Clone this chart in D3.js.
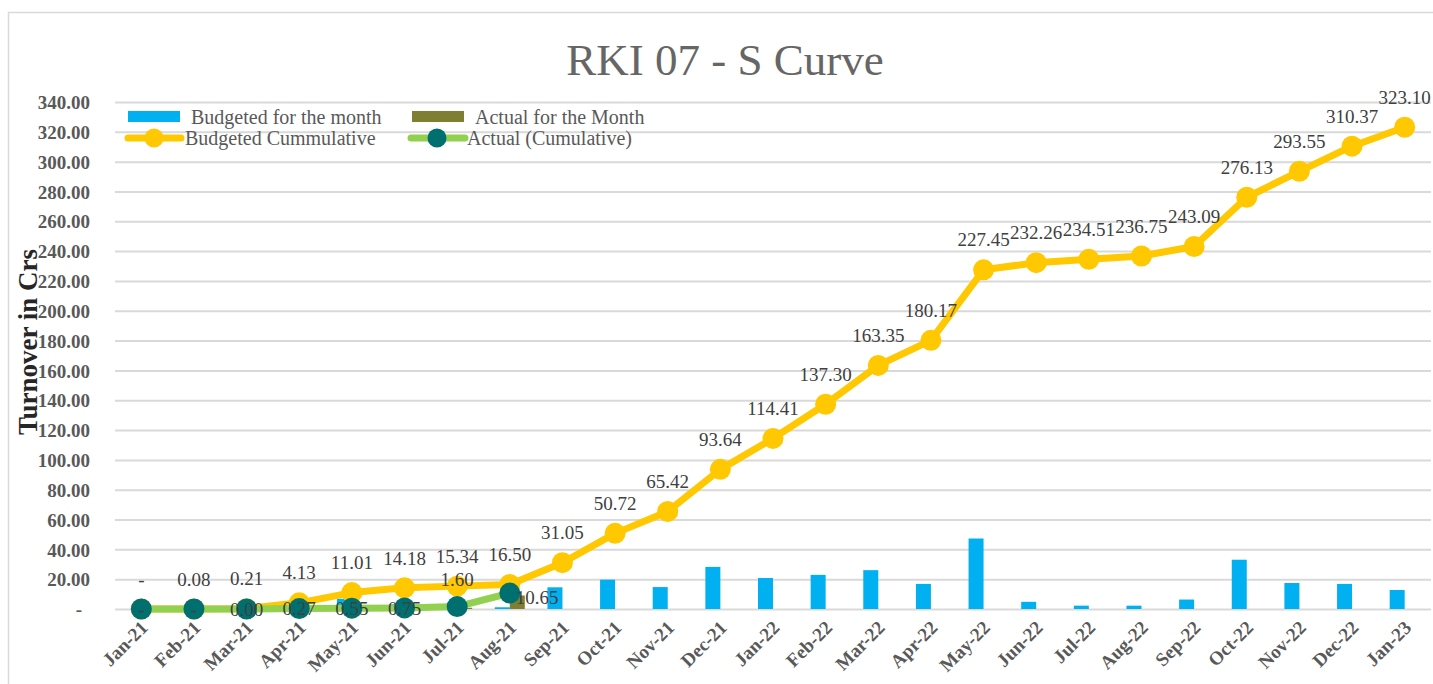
<!DOCTYPE html>
<head>
<meta charset="utf-8">
<title>RKI 07 - S Curve</title>
<script type="text/javascript" src="https://d3js.org/d3.v7.min.js"></script>
<style>
  body { margin: 0; background: #fff; }
  text { font-family: "Liberation Serif", "DejaVu Serif", serif; }
</style>
</head>

<body>
<div id="container"></div>
<script>

const months = ["Jan-21","Feb-21","Mar-21","Apr-21","May-21","Jun-21","Jul-21","Aug-21",
  "Sep-21","Oct-21","Nov-21","Dec-21","Jan-22","Feb-22","Mar-22","Apr-22","May-22",
  "Jun-22","Jul-22","Aug-22","Sep-22","Oct-22","Nov-22","Dec-22","Jan-23"]

const budgetMonth = [0, 0.08, 0.13, 3.92, 6.88, 3.17, 1.16, 1.16, 14.55, 19.67, 14.70, 28.22,
  20.77, 22.89, 26.05, 16.82, 47.28, 4.81, 2.25, 2.24, 6.34, 33.04, 17.42, 16.82, 12.73]

const actualMonth = [0, 0, 0, 0.27, 0.28, 0.20, 0.85, 9.05]

const budgetCum = [0, 0.08, 0.21, 4.13, 11.01, 14.18, 15.34, 16.50, 31.05, 50.72, 65.42, 93.64,
  114.41, 137.30, 163.35, 180.17, 227.45, 232.26, 234.51, 236.75, 243.09, 276.13, 293.55, 310.37, 323.10]

const actualCum = [0, 0, 0, 0.27, 0.55, 0.75, 1.60, 10.65]
const actualCumLabels = ["-", "-", "0.00", "0.27", "0.55", "0.75", "1.60", "10.65"]

const yTicks = d3.range(0, 341, 20)

function chart() {
  const width = 1433; const height = 684;
  const margin = ({top: 102, right: 2, bottom: 75, left: 115})

  const svg = d3.select("div#container").append("svg")
      .attr("width", width).attr("height", height)

  // outer chart border
  svg.append("rect")
    .attr("x", 8.5).attr("y", 12.5).attr("width", width).attr("height", height)
    .attr("fill", "none").attr("stroke", "#d9d9d9").attr("stroke-width", 1.5)

  xScale = d3.scaleBand().domain(months)
    .range([margin.left, width - margin.right])
  const cx = m => xScale(m) + xScale.bandwidth() / 2
  yScale = d3.scaleLinear().domain([0, 340])
    .range([height - margin.bottom, margin.top])

  const fmt = v => v === 0 ? "-" : v.toFixed(2)

  // gridlines + y labels
  const yAxis = g => g
    .attr("transform", `translate(${margin.left},0)`)
    .call(d3.axisRight(yScale).tickValues(yTicks).tickFormat(fmt)
        .tickSize(width - margin.left - margin.right))
    .call(g => g.select(".domain").remove())
    .call(g => g.selectAll(".tick line").attr("stroke", "#d9d9d9").attr("stroke-width", 2))
    .call(g => g.selectAll(".tick text")
        .attr("x", -25).attr("text-anchor", "end").attr("dy", "0.35em")
        .attr("fill", "#595959").attr("font-size", 19).attr("font-weight", "bold")
        .style("font-family", '"Liberation Serif", serif'))
    .call(g => g.selectAll(".tick text").filter(d => d === 0).attr("x", -33))
  svg.append("g").call(yAxis)

  // x labels
  const xAxis = g => g
    .attr("transform", `translate(0,${height - margin.bottom})`)
    .call(d3.axisBottom(xScale).tickSize(0))
    .call(g => g.select(".domain").remove())
    .call(g => g.selectAll(".tick text")
        .attr("transform", "translate(3,15) rotate(-45)")
        .attr("text-anchor", "end").attr("dy", "0.35em").attr("y", 0)
        .attr("fill", "#595959").attr("font-size", 19).attr("font-weight", "bold")
        .style("font-family", '"Liberation Serif", serif'))
  svg.append("g").call(xAxis)

  const bw = 15
  // monthly bars
  svg.append("g").selectAll("rect").data(budgetMonth).join("rect")
    .attr("x", (d, i) => cx(months[i]) - bw).attr("width", bw)
    .attr("y", d => yScale(d)).attr("height", d => yScale(0) - yScale(d))
    .attr("fill", "#00b0f0")
  svg.append("g").selectAll("rect").data(actualMonth).join("rect")
    .attr("x", (d, i) => cx(months[i])).attr("width", bw)
    .attr("y", d => yScale(d)).attr("height", d => yScale(0) - yScale(d))
    .attr("fill", "#7f7f32")

  const line = d3.line()
    .x((d, i) => cx(months[i]))
    .y(d => yScale(d))

  // budgeted cumulative
  svg.append("path").datum(budgetCum)
    .attr("fill", "none").attr("stroke", "#ffc800").attr("stroke-width", 7)
    .attr("stroke-linejoin", "round").attr("d", line)
  svg.append("g").selectAll("circle").data(budgetCum).join("circle")
    .attr("cx", (d, i) => cx(months[i])).attr("cy", d => yScale(d)).attr("r", 10.5)
    .attr("fill", "#ffc800")

  // actual cumulative
  svg.append("path").datum(actualCum)
    .attr("fill", "none").attr("stroke", "#92d050").attr("stroke-width", 7)
    .attr("stroke-linejoin", "round").attr("d", line)
  svg.append("g").selectAll("circle").data(actualCum).join("circle")
    .attr("cx", (d, i) => cx(months[i])).attr("cy", d => yScale(d)).attr("r", 10.5)
    .attr("fill", "#006f6f")

  // data labels
  svg.append("g").selectAll("text").data(budgetCum).join("text")
    .attr("x", (d, i) => cx(months[i])).attr("y", d => yScale(d) - 30)
    .attr("dy", "0.35em").attr("text-anchor", "middle")
    .attr("font-size", 19).attr("fill", "#404040")
    .text(fmt)

  svg.append("g").selectAll("text").data(actualCum).join("text")
    .attr("x", (d, i) => i === 7 ? cx(months[i]) + 6 : cx(months[i]))
    .attr("y", (d, i) => i === 6 ? yScale(d) - 27 : (i === 7 ? yScale(d) + 4 : yScale(d)))
    .attr("dy", "0.35em").attr("text-anchor", (d, i) => i === 7 ? "start" : "middle")
    .attr("font-size", 19).attr("fill", "#404040")
    .text((d, i) => actualCumLabels[i])

  // title
  svg.append("text").attr("x", 725).attr("y", 75).attr("text-anchor", "middle")
    .attr("font-size", 45).attr("fill", "#666666").text("RKI 07 - S Curve")

  // y axis title
  svg.append("text").attr("transform", "translate(37,342) rotate(-90)")
    .attr("text-anchor", "middle").attr("font-size", 27).attr("font-weight", "bold")
    .attr("fill", "#262626").text("Turnover in Crs")

  // legend
  const lg = svg.append("g").attr("font-size", 20).attr("fill", "#595959")
  lg.append("rect").attr("x", 128).attr("y", 111).attr("width", 52).attr("height", 11).attr("fill", "#00b0f0")
  lg.append("text").attr("x", 191).attr("y", 117).attr("dy", "0.35em").text("Budgeted for the month")
  lg.append("rect").attr("x", 412).attr("y", 111).attr("width", 52).attr("height", 11).attr("fill", "#7f7f32")
  lg.append("text").attr("x", 475).attr("y", 117).attr("dy", "0.35em").text("Actual for the Month")
  lg.append("line").attr("x1", 128).attr("x2", 181).attr("y1", 138).attr("y2", 138)
    .attr("stroke", "#ffc800").attr("stroke-width", 7).attr("stroke-linecap", "round")
  lg.append("circle").attr("cx", 154).attr("cy", 138).attr("r", 9.5).attr("fill", "#ffc800")
  lg.append("text").attr("x", 185).attr("y", 138).attr("dy", "0.35em").text("Budgeted Cummulative")
  lg.append("line").attr("x1", 411).attr("x2", 465).attr("y1", 138).attr("y2", 138)
    .attr("stroke", "#92d050").attr("stroke-width", 7).attr("stroke-linecap", "round")
  lg.append("circle").attr("cx", 437).attr("cy", 138).attr("r", 9.5).attr("fill", "#006f6f")
  lg.append("text").attr("x", 467).attr("y", 138).attr("dy", "0.35em").text("Actual (Cumulative)")

  return svg.node();
}

chart()

</script>
</body>
